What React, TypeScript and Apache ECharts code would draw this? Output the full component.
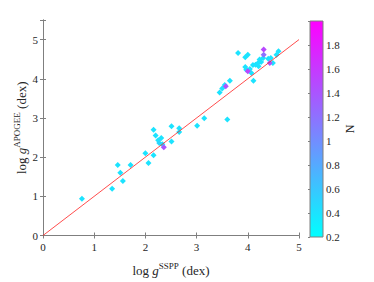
import React, { useEffect, useRef } from "react";
import * as echarts from "echarts";

// log g (SSPP), log g (APOGEE), N
const sspp = [0.76, 1.35, 1.46, 1.51, 1.56, 1.71, 2.0, 2.06, 2.16, 2.16, 2.2, 2.25, 2.27, 2.31, 2.33, 2.51, 2.51, 2.66, 2.66, 3.01, 3.15, 3.45, 3.5, 3.55, 3.65, 3.6, 3.81, 3.95, 4.0, 3.95, 3.97, 4.04, 4.07, 4.1, 4.11, 4.15, 4.2, 4.21, 4.23, 4.26, 4.3, 4.4, 4.45, 4.49, 4.56, 4.6, 2.36, 3.57, 4.0, 4.31, 4.31, 4.43];
const apogee = [0.94, 1.19, 1.8, 1.6, 1.39, 1.8, 2.1, 1.85, 2.05, 2.7, 2.55, 2.43, 2.36, 2.49, 2.33, 2.79, 2.4, 2.74, 2.64, 2.8, 2.99, 3.65, 3.75, 3.84, 3.95, 2.96, 4.66, 4.55, 4.61, 4.3, 4.23, 4.25, 4.15, 4.35, 3.95, 4.36, 4.4, 4.32, 4.49, 4.43, 4.53, 4.51, 4.53, 4.4, 4.61, 4.7, 2.25, 3.81, 4.19, 4.75, 4.61, 4.4];
const nVals = [0.4, 0.4, 0.4, 0.4, 0.4, 0.4, 0.4, 0.4, 0.4, 0.4, 0.4, 0.4, 0.5, 0.4, 0.4, 0.4, 0.4, 0.4, 0.4, 0.4, 0.4, 0.4, 0.4, 0.4, 0.4, 0.4, 0.4, 0.4, 0.4, 0.4, 0.4, 0.4, 0.4, 0.4, 0.4, 0.4, 0.4, 0.4, 0.4, 0.4, 0.4, 0.4, 0.4, 0.4, 0.4, 0.4, 1.4, 1.4, 1.5, 1.5, 1.2, 1.4];
const oneToOne = [[0, 0], [5, 5]];
const nMin = 0.2;
const nMax = 2.0;

const FONT = "'Liberation Serif', 'Times New Roman', serif";
const TXT = "#262626";
const AX = "#7f7f7f";

export default function App() {
  const ref = useRef<HTMLDivElement>(null);
  useEffect(() => {
    document.body.style.margin = "0";
    const chart = echarts.init(ref.current!, null, { renderer: "svg" });
    const pts = sspp.map((x, i) => [x, apogee[i], nVals[i]]);
    const baseAxis = {
      axisLine: { show: true, lineStyle: { color: AX, width: 1 } },
      axisTick: { show: true, inside: true, length: 3, lineStyle: { color: AX } },
      splitLine: { show: false },
      axisLabel: { color: TXT, fontFamily: FONT, fontSize: 11 },
    };
    const rich = {
      n: { fontFamily: FONT, fontSize: 13, color: TXT },
      i: { fontFamily: FONT, fontSize: 13, fontStyle: "italic", color: TXT },
      sup: { fontFamily: FONT, fontSize: 9, color: TXT, padding: [0, 0, 9, 0] },
    };
    chart.setOption({
      animation: false,
      textStyle: { fontFamily: FONT },
      grid: [
        { left: 43, top: 20, width: 256, height: 216, show: false },
        {
          left: 310, top: 21, width: 13, height: 216, show: true,
          borderColor: AX, borderWidth: 1,
          backgroundColor: new echarts.graphic.LinearGradient(0, 0, 0, 1, [
            { offset: 0, color: "#ff00ff" },
            { offset: 1, color: "#00ffff" },
          ]),
        },
      ],
      xAxis: [
        {
          ...baseAxis, type: "value", gridIndex: 0, min: 0, max: 5, interval: 1, position: "bottom",
          axisLabel: { ...baseAxis.axisLabel, margin: 6 },
          name: "{n|log }{i|g}{sup|SSPP}{n| (dex)}", nameLocation: "middle", nameGap: 26,
          nameTextStyle: { fontFamily: FONT, rich },
        },
        {
          ...baseAxis, type: "value", gridIndex: 0, min: 0, max: 5, interval: 1, position: "top",
          axisLabel: { show: false },
        },
        { type: "value", gridIndex: 1, min: 0, max: 1, show: false },
      ],
      yAxis: [
        {
          ...baseAxis, type: "value", gridIndex: 0, min: 0, max: 5.5, interval: 1, position: "left",
          axisLabel: { ...baseAxis.axisLabel, margin: 5, formatter: (v: number) => (Number.isInteger(v) ? String(v) : "") },
          name: "{n|log }{i|g}{sup|APOGEE}{n| (dex)}", nameLocation: "middle", nameGap: 13,
          nameMoveOverlap: false,
          nameTextStyle: { fontFamily: FONT, rich },
        },
        {
          ...baseAxis, type: "value", gridIndex: 0, min: 0, max: 5.5, interval: 1, position: "right",
          axisLabel: { show: false },
        },
        {
          ...baseAxis, type: "value", gridIndex: 1, min: nMin, max: nMax, interval: 0.2, position: "right",
          axisLine: { show: false },
          axisTick: { show: true, inside: true, length: 2, lineStyle: { color: AX } },
          axisLabel: {
            ...baseAxis.axisLabel, margin: 3,
            formatter: (v: number) => (Math.abs(v - nMax) < 1e-6 ? "" : String(Math.round(v * 10) / 10)),
          },
          name: "N", nameLocation: "middle", nameGap: 20, nameRotate: 90,
          nameTextStyle: { fontFamily: FONT, fontSize: 12, color: TXT },
        },
      ],
      visualMap: {
        show: false, type: "continuous", seriesIndex: [0], dimension: 2,
        min: nMin, max: nMax, inRange: { color: ["#00ffff", "#ff00ff"] },
      },
      series: [
        {
          type: "scatter", xAxisIndex: 0, yAxisIndex: 0, data: pts,
          symbol: "diamond", symbolSize: 6, itemStyle: { opacity: 1 },
        },
        {
          type: "line", xAxisIndex: 0, yAxisIndex: 0, data: oneToOne, showSymbol: false,
          lineStyle: { color: "#ff2020", width: 0.8 }, silent: true,
        },
      ],
    });
    return () => chart.dispose();
  }, []);
  return <div ref={ref} style={{ width: 374, height: 282 }} />;
}
